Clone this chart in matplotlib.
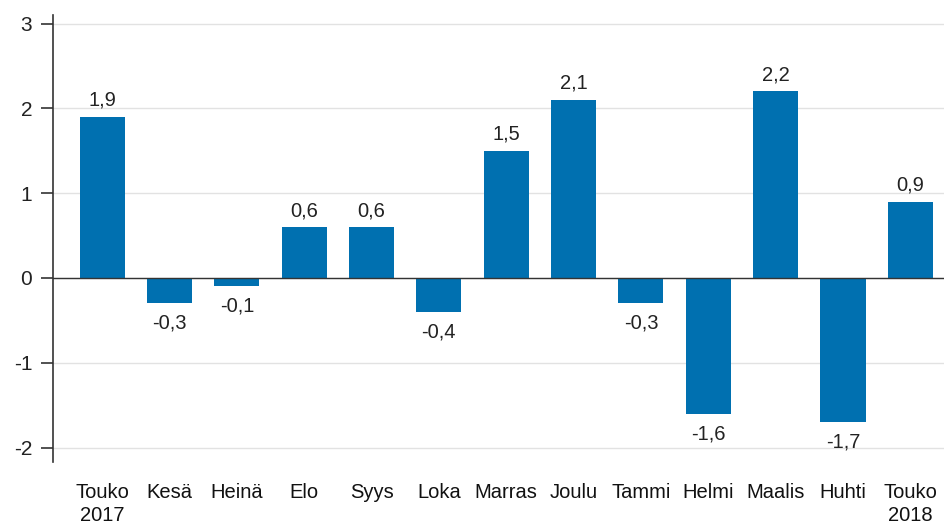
import matplotlib
matplotlib.use('Agg')
import matplotlib.pyplot as plt

months = ['Touko\n2017', 'Kesä', 'Heinä', 'Elo', 'Syys', 'Loka', 'Marras',
          'Joulu', 'Tammi', 'Helmi', 'Maalis', 'Huhti', 'Touko\n2018']
values = [1.9, -0.3, -0.1, 0.6, 0.6, -0.4, 1.5, 2.1, -0.3, -1.6, 2.2, -1.7, 0.9]
yticks = [-2, -1, 0, 1, 2, 3]

plt.rcParams['font.family'] = ['Liberation Sans', 'DejaVu Sans']

fig = plt.figure(figsize=(9.44, 5.27), dpi=100)
ax = fig.add_axes([0.0561, 0.1233, 0.9439, 0.8482])

x = list(range(len(values)))
ax.bar(x, values, width=0.67, color='#0070b0', zorder=3)

for xi, v in zip(x, values):
    lab = f'{v:.1f}'.replace('.', ',')
    if v >= 0:
        ax.annotate(lab, (xi, v), xytext=(0, 5), textcoords='offset points',
                    ha='center', va='bottom', fontsize=14.5, color='#222222')
    else:
        ax.annotate(lab, (xi, v), xytext=(0, -7.5), textcoords='offset points',
                    ha='center', va='top', fontsize=14.5, color='#222222')

ax.set_xlim(-0.73, 12.5)
ax.set_ylim(-2.17, 3.1)
ax.set_yticks(yticks)
ax.set_yticklabels([str(t) for t in yticks], fontsize=15, color='#222222')
ax.set_xticks(x)
ax.set_xticklabels(months, fontsize=14.5, color='#111111', linespacing=1.3)
ax.tick_params(axis='x', length=0, pad=15)
ax.tick_params(axis='y', length=9, width=1.2, color='#333333', pad=6)

ax.grid(axis='y', color='#e2e2e2', lw=1, zorder=0)
ax.axhline(0, color='#333333', lw=1, zorder=4)

for s in ['top', 'right', 'bottom']:
    ax.spines[s].set_visible(False)
ax.spines['left'].set_color('#333333')
ax.spines['left'].set_linewidth(1.2)

fig.savefig('out.png', dpi=100)
